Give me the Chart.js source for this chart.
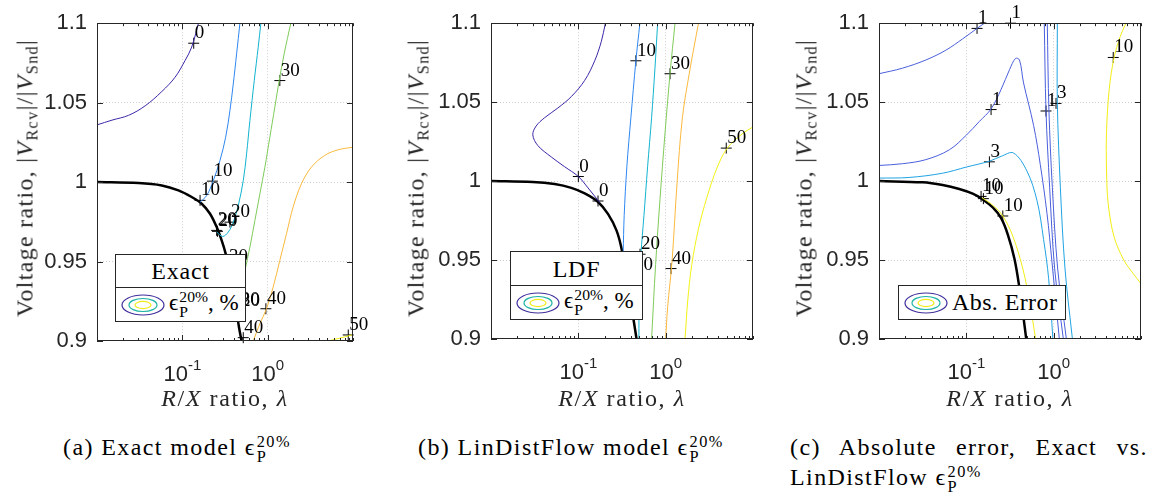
<!DOCTYPE html>
<html lang="en">
<head>
<meta charset="UTF-8">
<title>Exact vs LinDistFlow error maps</title>
<script src="https://cdn.jsdelivr.net/npm/chart.js"></script>
<style>
  body { margin: 0; background: #fff; }
  #wrap { position: relative; width: 1157px; height: 496px; overflow: hidden;
          font-family: 'Liberation Serif', 'DejaVu Serif', serif; color: #000; }
  canvas { position: absolute; top: 0; }
  .ytitle { position: absolute; transform: translate(-50%, -50%) rotate(-90deg);
            white-space: nowrap; font-size: 24px; letter-spacing: 1.3px; color: #262626; }
  .xtitle { position: absolute; transform: translate(-50%, -50%);
            white-space: nowrap; font-size: 24px; letter-spacing: 1.6px; color: #262626; }
  sub { font-size: 0.68em; vertical-align: -0.3em; line-height: 0; }
  .st { display: inline-block; font-size: 0.68em; line-height: 0.95; vertical-align: -0.45em; margin-left: 1px; }
  .st span { display: block; }
  .legend { position: absolute; background: #fff; border: 1px solid #262626; box-sizing: border-box;
            font-size: 24px; letter-spacing: 0.8px; }
  .lg-title { text-align: center; border-bottom: 1px solid #262626; box-sizing: border-box; }
  .lg-row { display: flex; align-items: center; padding-left: 4px; box-sizing: border-box; white-space: nowrap; }
  .lg-row svg { margin-right: 3px; flex: none; }
  .lg-eps { font-size: 23px; letter-spacing: 0; }
  .cap { position: absolute; font-size: 24px; letter-spacing: 1.4px; white-space: nowrap; line-height: 28px; }
</style>
</head>
<body>
<div id="wrap">
  <canvas id="chartA" width="385" height="420" style="left:0px"></canvas>
  <canvas id="chartB" width="385" height="420" style="left:385px"></canvas>
  <canvas id="chartC" width="387" height="420" style="left:770px"></canvas>

  <div class="ytitle" style="left:25px;top:178px">Voltage ratio, |<i>V</i><sub>Rcv</sub>|/|<i>V</i><sub>Snd</sub>|</div>
  <div class="ytitle" style="left:416px;top:178px">Voltage ratio, |<i>V</i><sub>Rcv</sub>|/|<i>V</i><sub>Snd</sub>|</div>
  <div class="ytitle" style="left:804px;top:178px">Voltage ratio, |<i>V</i><sub>Rcv</sub>|/|<i>V</i><sub>Snd</sub>|</div>

  <div class="xtitle" style="left:225px;top:398px"><i>R</i>/<i>X</i> ratio, <i>λ</i></div>
  <div class="xtitle" style="left:622px;top:398px"><i>R</i>/<i>X</i> ratio, <i>λ</i></div>
  <div class="xtitle" style="left:1010px;top:398px"><i>R</i>/<i>X</i> ratio, <i>λ</i></div>

  <div class="legend" style="left:115px;top:254px;width:131px;height:68px">
    <div class="lg-title" style="height:33px;line-height:33px">Exact</div>
    <div class="lg-row" style="height:33px">
      <svg width="46" height="24" viewBox="0 0 46 24">
        <ellipse cx="23" cy="12" rx="21" ry="10" fill="none" stroke="#3e2f9b" stroke-width="1.2"/>
        <ellipse cx="23" cy="12" rx="14" ry="6.5" fill="none" stroke="#1fb3a3" stroke-width="1.2"/>
        <ellipse cx="23" cy="12" rx="8" ry="3.6" fill="none" stroke="#f0ec1c" stroke-width="1.2"/>
      </svg>
      <span class="lg-eps">ϵ<span class="st"><span>20%</span><span>P</span></span>, %</span>
    </div>
  </div>

  <div class="legend" style="left:510px;top:251px;width:133px;height:69px">
    <div class="lg-title" style="height:34px;line-height:34px">LDF</div>
    <div class="lg-row" style="height:33px">
      <svg width="46" height="24" viewBox="0 0 46 24">
        <ellipse cx="23" cy="12" rx="21" ry="10" fill="none" stroke="#3e2f9b" stroke-width="1.2"/>
        <ellipse cx="23" cy="12" rx="14" ry="6.5" fill="none" stroke="#1fb3a3" stroke-width="1.2"/>
        <ellipse cx="23" cy="12" rx="8" ry="3.6" fill="none" stroke="#f0ec1c" stroke-width="1.2"/>
      </svg>
      <span class="lg-eps">ϵ<span class="st"><span>20%</span><span>P</span></span>, %</span>
    </div>
  </div>

  <div class="legend" style="left:898px;top:285px;width:168px;height:35px">
    <div class="lg-row" style="height:33px">
      <svg width="46" height="24" viewBox="0 0 46 24">
        <ellipse cx="23" cy="12" rx="21" ry="10" fill="none" stroke="#3e2f9b" stroke-width="1.2"/>
        <ellipse cx="23" cy="12" rx="14" ry="6.5" fill="none" stroke="#1fb3a3" stroke-width="1.2"/>
        <ellipse cx="23" cy="12" rx="8" ry="3.6" fill="none" stroke="#f0ec1c" stroke-width="1.2"/>
      </svg>
      <span style="letter-spacing:0.4px">Abs. Error</span>
    </div>
  </div>

  <div class="cap" style="left:63px;top:433px">(a) Exact model ϵ<span class="st"><span>20%</span><span>P</span></span></div>
  <div class="cap" style="left:418px;top:433px">(b) LinDistFlow model ϵ<span class="st"><span>20%</span><span>P</span></span></div>
  <div class="cap" style="left:790px;top:433px;width:358px;text-align:justify;text-align-last:justify">(c) Absolute error, Exact vs.</div>
  <div class="cap" style="left:790px;top:463px">LinDistFlow ϵ<span class="st"><span>20%</span><span>P</span></span></div>
</div>

<script>
// axes
const xMin = 0.01, xMax = 10;
const yMin = 0.9, yMax = 1.1;
const yTicks = [0.9, 0.95, 1, 1.05, 1.1];
const yTickText = ['0.9', '0.95', '1', '1.05', '1.1'];
const xMajor = [0.1, 1];
const xMajorExp = ['-1', '0'];
const xMinor = [0.01, 0.02, 0.03, 0.04, 0.05, 0.06, 0.07, 0.08, 0.09,
                0.1, 0.2, 0.3, 0.4, 0.5, 0.6, 0.7, 0.8, 0.9,
                1, 2, 3, 4, 5, 6, 7, 8, 9, 10];

// (a) exact model, contour levels 0..50 %
const aLvl0 = [[0.01,1.036],[0.015,1.039],[0.0234,1.042],[0.0367,1.048],[0.0575,1.057],[0.0822,1.066],[0.1076,1.0765],[0.1288,1.085],[0.158,1.102]];
const aLvl10 = [[0.1614,0.9874],[0.1932,0.9916],[0.2307,1.001],[0.2761,1.0136],[0.3221,1.0283],[0.3614,1.0451],[0.3954,1.0618],[0.4325,1.0807],[0.473,1.1]];
const aLvl20 = [[0.2524,0.9686],[0.2969,0.9658],[0.3458,0.9686],[0.3954,0.9748],[0.4527,0.9853],[0.5176,1.001],[0.5662,1.0178],[0.6194,1.0388],[0.6963,1.0639],[0.7748,1.0849],[0.8327,1.1]];
const aLvl30 = [[0.48,0.93],[0.542,0.9444],[0.6194,0.9591],[0.7086,0.9759],[0.811,0.9927],[0.9275,1.0094],[1.061,1.0283],[1.2134,1.0472],[1.364,1.0639],[1.56,1.0807],[1.866,1.1]];
const aLvl40 = [[0.6776,0.9],[0.811,0.911],[0.9698,0.9203],[1.161,0.934],[1.388,0.9507],[1.662,0.9675],[1.988,0.9843],[2.489,0.999],[3.256,1.0094],[4.662,1.0168],[6.67,1.0203],[10,1.022]];
const aLvl50 = [[5.1,0.9],[6.67,0.9015],[10,0.904]];
const aBound = [[0.01,1.0],[0.0307,0.9994],[0.0575,0.9979],[0.09,0.9948],[0.1288,0.9906],[0.1686,0.9864],[0.2111,0.9801],[0.2525,0.9717],[0.289,0.9633],[0.3218,0.955],[0.3614,0.9423],[0.414,0.9256],[0.4607,0.9088],[0.495,0.9]];
const aLabels = [[0.136,1.0874,'0'],[0.1614,0.9885,'10'],[0.225,1.0006,'10'],[0.2524,0.9696,'20'],[0.258,0.969,'20'],[0.3614,0.9748,'20'],[0.343,0.9465,'30'],[0.474,0.919,'20'],[0.47,0.9195,'30'],[1.388,1.0639,'30'],[0.953,0.9203,'40'],[0.5176,0.9021,'40'],[8.8,0.9038,'50']];

// (b) LinDistFlow model
const bLvl0 = [[0.1758,0.9864],[0.1291,0.9957],[0.1,1.0029],[0.0697,1.0091],[0.049,1.0153],[0.0344,1.0225],[0.0301,1.0293],[0.0329,1.0349],[0.041,1.0401],[0.0583,1.0463],[0.0831,1.0535],[0.1183,1.0638],[0.154,1.0762],[0.1837,1.0886],[0.204,1.1]];
const bLvl10 = [[0.326,0.9543],[0.335,0.9781],[0.3594,1.0091],[0.3995,1.0401],[0.456,1.0762],[0.507,1.1]];
const bLvl20 = [[0.4937,0.9],[0.4977,0.9265],[0.5205,0.9533],[0.564,0.9781],[0.621,1.0091],[0.69,1.0401],[0.753,1.0711],[0.809,1.1]];
const bLvl30 = [[0.69,0.9],[0.767,0.9471],[0.861,0.9884],[0.981,1.0298],[1.122,1.068],[1.28,1.1]];
const bLvl40 = [[1.0,0.9],[1.054,0.9203],[1.183,0.9492],[1.35,0.9988],[1.554,1.0401],[1.904,1.0711],[2.375,1.1]];
const bLvl50 = [[1.667,0.9],[1.79,0.9244],[1.99,0.9471],[2.375,0.9698],[2.96,0.9895],[3.855,1.0081],[5.02,1.0205],[7.47,1.0298],[10,1.0343]];
const bBound = [[0.01,1.0],[0.0301,0.9994],[0.0535,0.9981],[0.0831,0.9957],[0.1183,0.9922],[0.1683,0.9868],[0.2193,0.9791],[0.2733,0.9688],[0.312,0.9574],[0.356,0.9389],[0.4064,0.9203],[0.4642,0.9]];
const bLabels = [[0.1,1.0029,'0'],[0.168,0.9874,'0'],[0.456,1.0762,'10'],[1.122,1.068,'30'],[0.509,0.9537,'20'],[0.424,0.9407,'10'],[1.152,0.9446,'40'],[4.94,1.0209,'50']];

// (c) absolute error, levels 1, 3, 10
const cLvl1a = [[0.01,1.068],[0.01853,1.0715],[0.0344,1.0767],[0.0583,1.0829],[0.0908,1.0901],[0.1326,1.0967],[0.161,1.1]];
const cLvl1b = [[0.01,1.0099],[0.01853,1.011],[0.0344,1.0136],[0.0638,1.0198],[0.1,1.0291],[0.141,1.0378],[0.192,1.0457],[0.2503,1.0581],[0.312,1.0705],[0.3656,1.0777],[0.406,1.0767],[0.452,1.0622],[0.589,1.0353],[0.7025,1.0105],[0.8384,0.9796],[0.957,0.9486],[1.161,0.9]];
const cLvl1c = [[0.781,1.1],[0.817,1.0446],[0.8995,0.9961],[1.027,0.9444],[1.291,0.9]];
const cLvl1d = [[0.845,1.1],[0.883,1.0446],[0.9654,0.9961],[1.112,0.9444],[1.398,0.9]];
const cLvl3a = [[0.01,1.0019],[0.0221,1.0023],[0.0535,1.005],[0.1,1.0089],[0.1838,1.0126],[0.2503,1.0157],[0.3467,1.0178],[0.4937,1.0064],[0.6435,0.9878],[0.767,0.963],[0.876,0.9382],[0.98,0.9]];
const cLvl3b = [[1.102,1.1],[1.102,1.0494],[1.193,0.9961],[1.349,0.9444],[1.639,0.9]];
const cLvl10a = [[0.1513,0.9895],[0.2008,0.9847],[0.2616,0.9779],[0.3408,0.9651],[0.444,0.9444],[0.5297,0.9238],[0.621,0.9]];
const cLvl10b = [[6.72,1.1],[5.735,1.0911],[4.895,1.0777],[4.325,1.0581],[4.03,1.0312],[4.03,1.0064],[4.21,0.9858],[4.895,0.9651],[6.27,0.9506],[8.17,0.9413],[10,0.9351]];
const cBound = [[0.01,1.0],[0.0315,0.9992],[0.0535,0.9975],[0.0831,0.995],[0.1183,0.992],[0.154,0.9884],[0.2008,0.9833],[0.2503,0.9765],[0.2985,0.9661],[0.356,0.9506],[0.4064,0.932],[0.452,0.9134],[0.485,0.9]];
const cLabels = [[0.1326,1.0967,'1'],[0.3204,1.1,'1'],[0.192,1.0453,'1'],[0.817,1.0444,'1'],[1.064,1.0492,'3'],[0.1838,1.0122,'3'],[0.1475,0.9903,'10'],[0.1568,0.9889,'10'],[0.2616,0.9779,'10'],[4.81,1.0783,'10']];

const gridColor = '#cfcfcf';
const axisColor = '#262626';

const framePlugin = {
  id: 'frame',
  afterDraw(chart, args, opts) {
    const { ctx, chartArea: a, scales: { x, y } } = chart;
    ctx.save();
    ctx.strokeStyle = axisColor;
    ctx.lineWidth = 1;
    ctx.beginPath();
    xMinor.forEach(v => {
      const px = Math.round(x.getPixelForValue(v)) + 0.5;
      const len = xMajor.includes(v) ? 6 : 3;
      ctx.moveTo(px, a.bottom); ctx.lineTo(px, a.bottom - len);
      ctx.moveTo(px, a.top); ctx.lineTo(px, a.top + len);
    });
    yTicks.forEach(v => {
      const py = Math.round(y.getPixelForValue(v)) + 0.5;
      ctx.moveTo(a.left, py); ctx.lineTo(a.left + 6, py);
      ctx.moveTo(a.right, py); ctx.lineTo(a.right - 6, py);
    });
    ctx.stroke();
    ctx.strokeRect(Math.round(a.left) + 0.5, Math.round(a.top) + 0.5,
                   Math.round(a.width) - 1, Math.round(a.height) - 1);

    // x tick labels 10^n
    ctx.fillStyle = axisColor;
    ctx.textBaseline = 'alphabetic';
    ctx.textAlign = 'left';
    xMajor.forEach((v, i) => {
      const px = x.getPixelForValue(v);
      ctx.font = '22px "Liberation Sans"';
      const bw = ctx.measureText('10').width;
      ctx.font = '15px "Liberation Sans"';
      const ew = ctx.measureText(xMajorExp[i]).width;
      const sx = px - (bw + ew) / 2;
      ctx.font = '22px "Liberation Sans"';
      ctx.fillText('10', sx, a.bottom + 40);
      ctx.font = '15px "Liberation Sans"';
      ctx.fillText(xMajorExp[i], sx + bw, a.bottom + 29);
    });

    // contour labels
    ctx.fillStyle = '#000';
    ctx.font = '19px "Liberation Serif"';
    (opts.items || []).forEach(l => {
      const px = x.getPixelForValue(l[0]);
      const py = y.getPixelForValue(l[1]);
      ctx.fillText(l[2], px + 1, py - 5);
    });
    ctx.restore();
  }
};

const toXY = pts => pts.map(p => ({ x: p[0], y: p[1] }));

function lineDs(pts, color, width) {
  return { data: toXY(pts), showLine: true, borderColor: color, borderWidth: width,
           pointRadius: 0, fill: false, tension: 0.35 };
}

function makeChart(id, box, lines, bound, labels) {
  const cv = document.getElementById(id);
  const datasets = lines.map(l => lineDs(l[0], l[1], 1));
  datasets.push(lineDs(bound, '#000', 2.5));
  datasets.push({ data: toXY(labels), showLine: false, pointStyle: 'cross', pointRadius: 5.5,
                  borderColor: '#000', borderWidth: 1, clip: false });
  return new Chart(cv, {
    type: 'scatter',
    data: { datasets },
    options: {
      responsive: false,
      animation: false,
      layout: { padding: { left: 0, top: box.top, right: cv.width - box.right, bottom: 0 } },
      plugins: { legend: { display: false }, tooltip: { enabled: false }, frame: { items: labels } },
      scales: {
        x: {
          type: 'logarithmic', min: xMin, max: xMax,
          afterBuildTicks: s => { s.ticks = xMinor.map(v => ({ value: v })); },
          afterFit: s => { s.height = cv.height - box.bottom; },
          ticks: { display: false },
          grid: { drawTicks: false, lineWidth: 1,
                  color: c => (c.tick && xMajor.includes(c.tick.value)) ? gridColor : 'rgba(0,0,0,0)' },
          border: { display: false, dash: [1, 2] }
        },
        y: {
          min: yMin, max: yMax,
          afterBuildTicks: s => { s.ticks = yTicks.map(v => ({ value: v })); },
          afterFit: s => { s.width = box.left; },
          ticks: { font: { family: 'Liberation Sans', size: 22 }, color: axisColor, padding: 10,
                   callback: v => yTickText[yTicks.indexOf(v)] },
          grid: { drawTicks: false, lineWidth: 1,
                  color: c => (c.tick && c.tick.value > 0.91 && c.tick.value < 1.09) ? gridColor : 'rgba(0,0,0,0)' },
          border: { display: false, dash: [1, 2] }
        }
      }
    },
    plugins: [framePlugin]
  });
}

makeChart('chartA', { left: 97, right: 353, top: 23, bottom: 341 },
  [[aLvl0, '#3e26a8'], [aLvl10, '#2d87f0'], [aLvl20, '#12b3cf'], [aLvl30, '#7fcb5a'], [aLvl40, '#fbb93d'], [aLvl50, '#f2f213']],
  aBound, aLabels);

makeChart('chartB', { left: 106, right: 368, top: 15, bottom: 339 },
  [[bLvl0, '#3e26a8'], [bLvl10, '#2d87f0'], [bLvl20, '#12b3cf'], [bLvl30, '#7fcb5a'], [bLvl40, '#fbb93d'], [bLvl50, '#f2f213']],
  bBound, bLabels);

makeChart('chartC', { left: 109, right: 371, top: 15, bottom: 339 },
  [[cLvl1a, '#4a5fdc'], [cLvl1b, '#4a5fdc'], [cLvl1c, '#4a5fdc'], [cLvl1d, '#4a5fdc'],
   [cLvl3a, '#1fa3e3'], [cLvl3b, '#1fa3e3'], [cLvl10a, '#f2ee16'], [cLvl10b, '#f2ee16']],
  cBound, cLabels);
</script>
</body>
</html>
